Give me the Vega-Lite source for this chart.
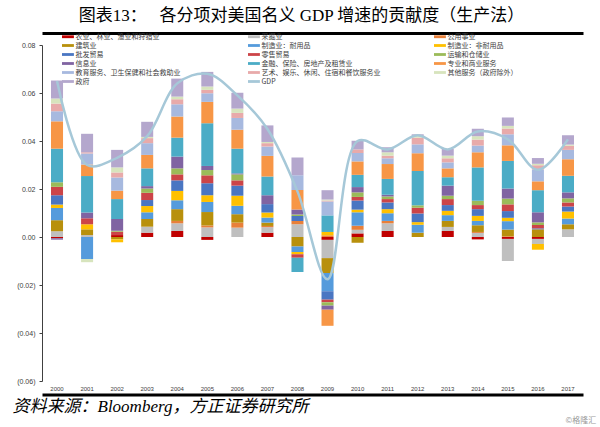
{
  "$schema": "https://vega.github.io/schema/vega-lite/v6.json",
  "width": 541,
  "height": 336,
  "autosize": {"type": "none"},
  "padding": {"left": 42, "top": 45, "right": 17, "bottom": 46},
  "background": "white",
  "title": {
    "text": "图表13：　 各分项对美国名义 GDP 增速的贡献度（生产法）",
    "font": "Liberation Serif, Noto Sans CJK SC",
    "fontSize": 17,
    "fontWeight": "normal",
    "color": "#000000",
    "anchor": "middle",
    "frame": "group",
    "offset": 8,
    "dx": -11
  },
  "datasets": {
    "sectors": [
      {"code": "s01", "name": "农业、林业、渔业和狩猎业"},
      {"code": "s02", "name": "采掘业"},
      {"code": "s03", "name": "公用事业"},
      {"code": "s04", "name": "建筑业"},
      {"code": "s05", "name": "制造业：耐用品"},
      {"code": "s06", "name": "制造业：非耐用品"},
      {"code": "s07", "name": "批发贸易"},
      {"code": "s08", "name": "零售贸易"},
      {"code": "s09", "name": "运输和仓储业"},
      {"code": "s10", "name": "信息业"},
      {"code": "s11", "name": "金融、保险、房地产及租赁业"},
      {"code": "s12", "name": "专业和商业服务"},
      {"code": "s13", "name": "教育服务、卫生保健和社会救助业"},
      {"code": "s14", "name": "艺术、娱乐、休闲、住宿和餐饮服务业"},
      {"code": "s15", "name": "其他服务（政府除外）"},
      {"code": "s16", "name": "政府"}
    ],
    "gdp": [
      {"year": "2000", "gdp": 0.065},
      {"year": "2001", "gdp": 0.030},
      {"year": "2002", "gdp": 0.033},
      {"year": "2003", "gdp": 0.042},
      {"year": "2004", "gdp": 0.064},
      {"year": "2005", "gdp": 0.068},
      {"year": "2006", "gdp": 0.059},
      {"year": "2007", "gdp": 0.045},
      {"year": "2008", "gdp": 0.019},
      {"year": "2009", "gdp": -0.0176},
      {"year": "2010", "gdp": 0.040},
      {"year": "2011", "gdp": 0.0365},
      {"year": "2012", "gdp": 0.0424},
      {"year": "2013", "gdp": 0.0365},
      {"year": "2014", "gdp": 0.044},
      {"year": "2015", "gdp": 0.0407},
      {"year": "2016", "gdp": 0.028},
      {"year": "2017", "gdp": 0.0407}
    ],
    "bars": [
      {"year":"2000","code":"s01","value":-0.0005},{"year":"2000","code":"s02","value":0.0024},{"year":"2000","code":"s04","value":0.0046},{"year":"2000","code":"s05","value":0.0051},{"year":"2000","code":"s06","value":0.0014},{"year":"2000","code":"s07","value":0.0039},{"year":"2000","code":"s08","value":0.0035},{"year":"2000","code":"s09","value":0.0019},{"year":"2000","code":"s10","value":-0.0006},{"year":"2000","code":"s11","value":0.014},{"year":"2000","code":"s12","value":0.0114},{"year":"2000","code":"s13","value":0.0042},{"year":"2000","code":"s14","value":0.0032},{"year":"2000","code":"s15","value":0.0021},{"year":"2000","code":"s16","value":0.0075},
      {"year":"2001","code":"s02","value":0.0008},{"year":"2001","code":"s04","value":0.0024},{"year":"2001","code":"s05","value":-0.0092},{"year":"2001","code":"s06","value":0.0021},{"year":"2001","code":"s08","value":0.0025},{"year":"2001","code":"s10","value":0.0024},{"year":"2001","code":"s11","value":0.0152},{"year":"2001","code":"s12","value":0.0048},{"year":"2001","code":"s13","value":0.0046},{"year":"2001","code":"s14","value":0.0005},{"year":"2001","code":"s15","value":-0.0013},{"year":"2001","code":"s16","value":0.0077},
      {"year":"2002","code":"s01","value":0.0008},{"year":"2002","code":"s04","value":-0.001},{"year":"2002","code":"s06","value":-0.0012},{"year":"2002","code":"s08","value":0.0014},{"year":"2002","code":"s09","value":0.0004},{"year":"2002","code":"s10","value":0.0049},{"year":"2002","code":"s11","value":0.0083},{"year":"2002","code":"s12","value":0.0035},{"year":"2002","code":"s13","value":0.0055},{"year":"2002","code":"s14","value":0.0021},{"year":"2002","code":"s15","value":0.0021},{"year":"2002","code":"s16","value":0.0073},
      {"year":"2003","code":"s01","value":0.0018},{"year":"2003","code":"s02","value":0.0025},{"year":"2003","code":"s04","value":0.0032},{"year":"2003","code":"s05","value":0.0028},{"year":"2003","code":"s06","value":0.0026},{"year":"2003","code":"s07","value":0.0025},{"year":"2003","code":"s08","value":0.003},{"year":"2003","code":"s09","value":0.0018},{"year":"2003","code":"s10","value":0.001},{"year":"2003","code":"s11","value":0.0074},{"year":"2003","code":"s12","value":0.0056},{"year":"2003","code":"s13","value":0.0049},{"year":"2003","code":"s14","value":0.0021},{"year":"2003","code":"s15","value":0.0005},{"year":"2003","code":"s16","value":0.0063},
      {"year":"2004","code":"s01","value":0.0025},{"year":"2004","code":"s02","value":0.0032},{"year":"2004","code":"s03","value":0.001},{"year":"2004","code":"s04","value":0.0049},{"year":"2004","code":"s05","value":0.0037},{"year":"2004","code":"s06","value":0.0039},{"year":"2004","code":"s07","value":0.0044},{"year":"2004","code":"s08","value":0.0025},{"year":"2004","code":"s09","value":0.0025},{"year":"2004","code":"s10","value":0.0049},{"year":"2004","code":"s11","value":0.0079},{"year":"2004","code":"s12","value":0.0088},{"year":"2004","code":"s13","value":0.0051},{"year":"2004","code":"s14","value":0.0021},{"year":"2004","code":"s15","value":0.0011},{"year":"2004","code":"s16","value":0.0075},
      {"year":"2005","code":"s01","value":-0.0012},{"year":"2005","code":"s02","value":0.004},{"year":"2005","code":"s03","value":0.0008},{"year":"2005","code":"s04","value":0.0056},{"year":"2005","code":"s05","value":0.0042},{"year":"2005","code":"s06","value":0.0028},{"year":"2005","code":"s07","value":0.005},{"year":"2005","code":"s08","value":0.0033},{"year":"2005","code":"s09","value":0.0022},{"year":"2005","code":"s10","value":0.0017},{"year":"2005","code":"s11","value":0.0178},{"year":"2005","code":"s12","value":0.0089},{"year":"2005","code":"s13","value":0.0036},{"year":"2005","code":"s14","value":0.0014},{"year":"2005","code":"s15","value":0.0014},{"year":"2005","code":"s16","value":0.0061},
      {"year":"2006","code":"s02","value":0.0039},{"year":"2006","code":"s03","value":0.0021},{"year":"2006","code":"s04","value":0.0035},{"year":"2006","code":"s05","value":0.0035},{"year":"2006","code":"s06","value":0.0042},{"year":"2006","code":"s07","value":0.0042},{"year":"2006","code":"s08","value":0.0022},{"year":"2006","code":"s09","value":0.0025},{"year":"2006","code":"s10","value":0.0004},{"year":"2006","code":"s11","value":0.0103},{"year":"2006","code":"s12","value":0.0079},{"year":"2006","code":"s13","value":0.0049},{"year":"2006","code":"s14","value":0.0021},{"year":"2006","code":"s15","value":0.0018},{"year":"2006","code":"s16","value":0.0066},
      {"year":"2007","code":"s01","value":0.0018},{"year":"2007","code":"s02","value":0.0023},{"year":"2007","code":"s03","value":0.0005},{"year":"2007","code":"s04","value":0.0014},{"year":"2007","code":"s05","value":0.0021},{"year":"2007","code":"s06","value":0.0021},{"year":"2007","code":"s07","value":0.0035},{"year":"2007","code":"s10","value":0.0037},{"year":"2007","code":"s11","value":0.0078},{"year":"2007","code":"s12","value":0.0086},{"year":"2007","code":"s13","value":0.0039},{"year":"2007","code":"s14","value":0.0014},{"year":"2007","code":"s15","value":0.0005},{"year":"2007","code":"s16","value":0.0069},
      {"year":"2008","code":"s02","value":0.0053},{"year":"2008","code":"s03","value":0.0014},{"year":"2008","code":"s04","value":-0.004},{"year":"2008","code":"s05","value":-0.0022},{"year":"2008","code":"s06","value":-0.001},{"year":"2008","code":"s07","value":0.002},{"year":"2008","code":"s08","value":-0.0014},{"year":"2008","code":"s09","value":0.0007},{"year":"2008","code":"s10","value":0.0021},{"year":"2008","code":"s11","value":-0.006},{"year":"2008","code":"s12","value":0.0081},{"year":"2008","code":"s13","value":0.0061},{"year":"2008","code":"s16","value":0.0074},
      {"year":"2009","code":"s01","value":-0.0012},{"year":"2009","code":"s02","value":-0.0076},{"year":"2009","code":"s03","value":0.0007},{"year":"2009","code":"s04","value":-0.0062},{"year":"2009","code":"s05","value":-0.0076},{"year":"2009","code":"s06","value":0.0014},{"year":"2009","code":"s07","value":-0.0035},{"year":"2009","code":"s08","value":-0.0011},{"year":"2009","code":"s09","value":-0.0014},{"year":"2009","code":"s10","value":-0.0017},{"year":"2009","code":"s11","value":0.0069},{"year":"2009","code":"s12","value":-0.0067},{"year":"2009","code":"s13","value":0.0058},{"year":"2009","code":"s14","value":0.0004},{"year":"2009","code":"s15","value":0.0004},{"year":"2009","code":"s16","value":0.0039},
      {"year":"2010","code":"s01","value":0.0015},{"year":"2010","code":"s02","value":0.0015},{"year":"2010","code":"s03","value":0.0017},{"year":"2010","code":"s04","value":-0.0024},{"year":"2010","code":"s05","value":0.0056},{"year":"2010","code":"s06","value":0.0011},{"year":"2010","code":"s07","value":0.0038},{"year":"2010","code":"s08","value":0.0015},{"year":"2010","code":"s09","value":0.0019},{"year":"2010","code":"s10","value":0.0022},{"year":"2010","code":"s11","value":0.0051},{"year":"2010","code":"s12","value":0.0056},{"year":"2010","code":"s13","value":0.0035},{"year":"2010","code":"s14","value":0.0015},{"year":"2010","code":"s16","value":0.0036},
      {"year":"2011","code":"s01","value":0.0025},{"year":"2011","code":"s02","value":0.0032},{"year":"2011","code":"s03","value":0.001},{"year":"2011","code":"s05","value":0.0032},{"year":"2011","code":"s06","value":0.0017},{"year":"2011","code":"s07","value":0.0028},{"year":"2011","code":"s08","value":0.0014},{"year":"2011","code":"s09","value":0.0011},{"year":"2011","code":"s10","value":0.0007},{"year":"2011","code":"s11","value":0.0066},{"year":"2011","code":"s12","value":0.0062},{"year":"2011","code":"s13","value":0.0024},{"year":"2011","code":"s14","value":0.0011},{"year":"2011","code":"s15","value":0.0014},{"year":"2011","code":"s16","value":0.0021},
      {"year":"2012","code":"s04","value":0.0018},{"year":"2012","code":"s05","value":0.0033},{"year":"2012","code":"s06","value":0.0011},{"year":"2012","code":"s07","value":0.0036},{"year":"2012","code":"s08","value":0.0024},{"year":"2012","code":"s09","value":0.001},{"year":"2012","code":"s11","value":0.0143},{"year":"2012","code":"s12","value":0.0074},{"year":"2012","code":"s13","value":0.0037},{"year":"2012","code":"s14","value":0.0028},{"year":"2012","code":"s15","value":0.0007},{"year":"2012","code":"s16","value":0.0007},
      {"year":"2013","code":"s01","value":0.0025},{"year":"2013","code":"s02","value":0.0017},{"year":"2013","code":"s04","value":0.0025},{"year":"2013","code":"s05","value":0.0024},{"year":"2013","code":"s06","value":0.0018},{"year":"2013","code":"s07","value":0.0024},{"year":"2013","code":"s08","value":0.0025},{"year":"2013","code":"s09","value":0.0014},{"year":"2013","code":"s10","value":0.0042},{"year":"2013","code":"s11","value":0.0035},{"year":"2013","code":"s12","value":0.0037},{"year":"2013","code":"s13","value":0.0025},{"year":"2013","code":"s14","value":0.0017},{"year":"2013","code":"s15","value":0.0011},{"year":"2013","code":"s16","value":0.0028},
      {"year":"2014","code":"s01","value":-0.001},{"year":"2014","code":"s02","value":0.0017},{"year":"2014","code":"s03","value":0.0004},{"year":"2014","code":"s04","value":0.0028},{"year":"2014","code":"s05","value":0.0018},{"year":"2014","code":"s06","value":0.0021},{"year":"2014","code":"s07","value":0.0028},{"year":"2014","code":"s08","value":0.0017},{"year":"2014","code":"s09","value":0.0018},{"year":"2014","code":"s11","value":0.0139},{"year":"2014","code":"s12","value":0.0063},{"year":"2014","code":"s13","value":0.0028},{"year":"2014","code":"s14","value":0.0025},{"year":"2014","code":"s15","value":0.0014},{"year":"2014","code":"s16","value":0.0031},
      {"year":"2015","code":"s01","value":-0.0008},{"year":"2015","code":"s02","value":-0.0092},{"year":"2015","code":"s03","value":0.0003},{"year":"2015","code":"s04","value":0.0028},{"year":"2015","code":"s05","value":0.0035},{"year":"2015","code":"s06","value":0.0014},{"year":"2015","code":"s07","value":0.0028},{"year":"2015","code":"s08","value":0.0028},{"year":"2015","code":"s09","value":0.0024},{"year":"2015","code":"s10","value":0.0042},{"year":"2015","code":"s11","value":0.0115},{"year":"2015","code":"s12","value":0.0065},{"year":"2015","code":"s13","value":0.0046},{"year":"2015","code":"s14","value":0.0024},{"year":"2015","code":"s15","value":0.0011},{"year":"2015","code":"s16","value":0.0035},
      {"year":"2016","code":"s01","value":-0.0008},{"year":"2016","code":"s02","value":-0.0021},{"year":"2016","code":"s04","value":0.0032},{"year":"2016","code":"s06","value":-0.0024},{"year":"2016","code":"s07","value":0.0004},{"year":"2016","code":"s08","value":0.0014},{"year":"2016","code":"s09","value":0.0011},{"year":"2016","code":"s10","value":0.0042},{"year":"2016","code":"s11","value":0.0092},{"year":"2016","code":"s12","value":0.0037},{"year":"2016","code":"s13","value":0.0049},{"year":"2016","code":"s14","value":0.0018},{"year":"2016","code":"s15","value":0.0006},{"year":"2016","code":"s16","value":0.0024},
      {"year":"2017","code":"s02","value":0.0032},{"year":"2017","code":"s04","value":0.0021},{"year":"2017","code":"s05","value":0.0024},{"year":"2017","code":"s06","value":0.0029},{"year":"2017","code":"s07","value":0.0021},{"year":"2017","code":"s08","value":0.0017},{"year":"2017","code":"s09","value":0.0017},{"year":"2017","code":"s10","value":0.0025},{"year":"2017","code":"s11","value":0.0069},{"year":"2017","code":"s12","value":0.0069},{"year":"2017","code":"s13","value":0.0039},{"year":"2017","code":"s14","value":0.0017},{"year":"2017","code":"s15","value":0.0005},{"year":"2017","code":"s16","value":0.0039}
    ]
  },
  "layer": [
    {
      "data": {"name": "bars"},
      "transform": [
        {"lookup": "code", "from": {"data": {"name": "sectors"}, "key": "code", "fields": ["name"]}}
      ],
      "mark": {"type": "bar", "strokeWidth": 0},
      "encoding": {
        "x": {
          "field": "year",
          "type": "ordinal",
          "scale": {"paddingInner": 0.6, "paddingOuter": 0.3},
          "axis": {
            "orient": "bottom",
            "offset": 13.5,
            "domain": true,
            "domainWidth": 3,
            "domainColor": "#000000",
            "ticks": false,
            "tickSize": 0,
            "labelAngle": 0,
            "labelPadding": -6,
            "labelBaseline": "middle",
            "labelFontSize": 6,
            "labelFont": "Liberation Sans",
            "labelColor": "#404040",
            "title": "资料来源：Bloomberg，方正证券研究所",
            "titleFont": "Liberation Serif, Noto Sans CJK SC",
            "titleFontStyle": "italic",
            "titleFontSize": 17,
            "titleFontWeight": "normal",
            "titleColor": "#000000",
            "titleAlign": "left",
            "titleAnchor": "start",
            "titleBaseline": "middle",
            "titleX": -30,
            "titleY": 12
          }
        },
        "y": {
          "field": "value",
          "type": "quantitative",
          "stack": "zero",
          "title": "©格隆汇",
          "scale": {"domain": [-0.06, 0.08], "nice": false, "zero": false},
          "axis": {
            "values": [-0.06, -0.04, -0.02, 0, 0.02, 0.04, 0.06, 0.08],
            "labelExpr": "datum.value < 0 ? '(' + format(-datum.value, '.2f') + ')' : format(datum.value, '.2f')",
            "labelFont": "Liberation Sans",
            "labelFontSize": 7,
            "labelColor": "#404040",
            "labelPadding": 4,
            "tickSize": 3,
            "tickColor": "#404040",
            "domainColor": "#404040",
            "grid": false,
            "titleAngle": 0,
            "titleX": 523,
            "titleY": 375,
            "titleAlign": "left",
            "titleBaseline": "middle",
            "titleFont": "Noto Sans CJK SC",
            "titleFontSize": 8,
            "titleFontWeight": "normal",
            "titleColor": "#9a9a9a"
          }
        },
        "color": {
          "field": "name",
          "type": "nominal",
          "scale": {
            "domain": ["农业、林业、渔业和狩猎业", "采掘业", "公用事业", "建筑业", "制造业：耐用品", "制造业：非耐用品", "批发贸易", "零售贸易", "运输和仓储业", "信息业", "金融、保险、房地产及租赁业", "专业和商业服务", "教育服务、卫生保健和社会救助业", "艺术、娱乐、休闲、住宿和餐饮服务业", "其他服务（政府除外）", "政府", "GDP"],
            "range": ["#C00000", "#BFBFBF", "#E8803A", "#B8900C", "#559BDC", "#FFC000", "#4A76C2", "#CC4448", "#9BBB59", "#8064A2", "#4BACC6", "#F79646", "#A7B9DF", "#E8AAAA", "#D7E4BD", "#B4A7CD", "#A6C8D8"]
          },
          "legend": {
            "orient": "none",
            "direction": "horizontal",
            "legendX": 20,
            "legendY": -12,
            "columns": 3,
            "gridAlign": "all",
            "columnPadding": 53,
            "rowPadding": 1,
            "padding": 0,
            "title": null,
            "symbolType": "M-1,-0.4H2.4V0.4H-1Z",
            "symbolSize": 49,
            "symbolStrokeWidth": 0,
            "labelFont": "Noto Sans CJK SC",
            "labelFontSize": 7,
            "labelColor": "#404040",
            "labelOffset": 6.5,
            "labelLimit": 300
          }
        },
        "order": {"field": "code", "sort": "ascending"}
      }
    },
    {
      "mark": {"type": "rule", "color": "#404040", "strokeWidth": 1},
      "encoding": {"y": {"datum": 0}}
    },
    {
      "data": {"name": "gdp"},
      "mark": {"type": "line", "color": "#A6C8D8", "strokeWidth": 2.5, "interpolate": "catmull-rom"},
      "encoding": {
        "x": {
          "field": "year",
          "type": "ordinal",
          "axis": {
            "orient": "top",
            "offset": 12,
            "domain": true,
            "domainWidth": 3,
            "domainColor": "#000000",
            "labels": false,
            "ticks": false,
            "title": null
          }
        },
        "y": {"field": "gdp", "type": "quantitative", "title": "©格隆汇"}
      }
    }
  ],
  "resolve": {"axis": {"x": "independent"}},
  "config": {
    "view": {"stroke": null},
    "axis": {"grid": false}
  }
}
